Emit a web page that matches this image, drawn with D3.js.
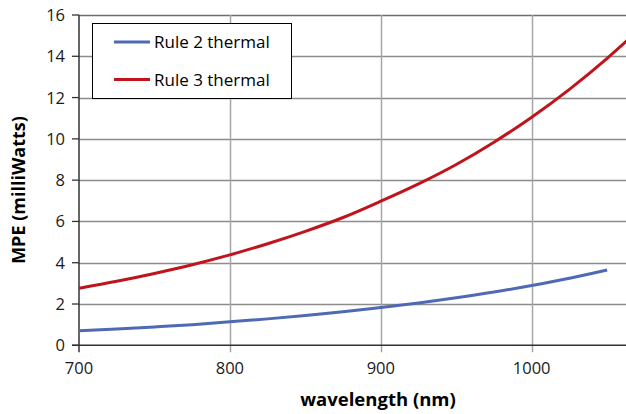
<!DOCTYPE html>
<html><head><meta charset="utf-8">
<script src="https://cdn.jsdelivr.net/npm/d3@7"></script>
<style>
html,body{margin:0;padding:0;background:#fff;}
svg{display:block;font-family:"Open Sans",sans-serif;}
</style></head>
<body><svg id="c" width="626" height="414"></svg>
<script>
const wavelengths = [700,725,750,775,800,825,850,875,900,925,950,975,1000,1025,1050,1075];
const rule2 = [0.71,0.79,0.89,1.00,1.14,1.28,1.44,1.62,1.83,2.05,2.30,2.58,2.90,3.25,3.65,null];
const rule3 = [2.76,3.10,3.48,3.90,4.38,4.92,5.52,6.19,6.98,7.82,8.76,9.84,11.05,12.40,13.90,15.55];
const seriesNames = ["Rule 2 thermal","Rule 3 thermal"];
const seriesColors = ["#4F69B5","#C0141C"];
const xTicks = [700,800,900,1000];
const yTicks = [0,2,4,6,8,10,12,14,16];

const svg = d3.select("#c");
const L = 79, R = 626, T = 15, B = 345.3;
const x = d3.scaleLinear().domain([700,1000]).range([L,531.7]);
const y = d3.scaleLinear().domain([0,16]).range([B,T]);

svg.append("defs").append("clipPath").attr("id","clip")
  .append("rect").attr("x",L).attr("y",T-2).attr("width",R-L).attr("height",B-T+4);

// gridlines
const g = svg.append("g");
g.selectAll(".hg").data(yTicks.filter(d=>d>0)).join("line")
  .attr("x1",L).attr("x2",R).attr("y1",d=>Math.round(y(d))+0.5).attr("y2",d=>Math.round(y(d))+0.5)
  .attr("stroke",d=>d===16?"#6e6e6e":"#8c8c8c").attr("stroke-width",d=>d===16?1.5:1.3);
g.selectAll(".vg").data(xTicks.filter(d=>d>700)).join("line")
  .attr("x1",d=>Math.round(x(d))+0.5).attr("x2",d=>Math.round(x(d))+0.5).attr("y1",T).attr("y2",B+7)
  .attr("stroke","#a6a6a6").attr("stroke-width",1.5);

// axes lines
g.append("line").attr("x1",L).attr("x2",L).attr("y1",T).attr("y2",B+7).attr("stroke","#333").attr("stroke-width",1.5);
g.append("line").attr("x1",L-7).attr("x2",R).attr("y1",B).attr("y2",B).attr("stroke","#333").attr("stroke-width",1.5);
g.selectAll(".yt").data(yTicks).join("line")
  .attr("x1",L-7).attr("x2",L).attr("y1",d=>y(d)).attr("y2",d=>y(d)).attr("stroke","#333").attr("stroke-width",1.3);

// tick labels
svg.append("g").selectAll("text").data(yTicks).join("text")
  .attr("x",L-14).attr("y",d=>y(d)).attr("dy","0.36em").attr("text-anchor","end")
  .attr("font-size",16.5).attr("fill","#1a1a1a").text(d=>d);
svg.append("g").selectAll("text").data(xTicks).join("text")
  .attr("x",d=>x(d)).attr("y",B+29).attr("text-anchor","middle")
  .attr("font-size",16.5).attr("fill","#1a1a1a").text(d=>d);

// axis titles
svg.append("text").attr("x",378).attr("y",406).attr("text-anchor","middle")
  .attr("font-size",18.5).attr("font-weight","bold").attr("fill","#000").text("wavelength (nm)");
svg.append("text").attr("transform","translate(25,190) rotate(-90)").attr("text-anchor","middle")
  .attr("font-size",18).attr("font-weight","bold").attr("fill","#000").text("MPE (milliWatts)");

// lines
const line = d3.line().defined(d=>d[1]!=null).x(d=>x(d[0])).y(d=>y(d[1])).curve(d3.curveMonotoneX);
const plot = svg.append("g").attr("clip-path","url(#clip)");
[rule2,rule3].forEach((vals,i)=>{
  plot.append("path").datum(wavelengths.map((w,j)=>[w,vals[j]]))
    .attr("d",line).attr("fill","none").attr("stroke",seriesColors[i]).attr("stroke-width",3);
});

// legend
const lg = svg.append("g");
lg.append("rect").attr("x",92.5).attr("y",23.5).attr("width",199).attr("height",75)
  .attr("fill","#fff").attr("stroke","#000").attr("stroke-width",1);
seriesNames.forEach((n,i)=>{
  const yy = 42 + i*37.5;
  lg.append("line").attr("x1",114).attr("x2",150).attr("y1",yy).attr("y2",yy)
    .attr("stroke",seriesColors[i]).attr("stroke-width",3);
  lg.append("text").attr("x",154).attr("y",yy).attr("dy","0.36em")
    .attr("font-size",17).attr("fill","#000").text(n);
});
</script></body></html>
